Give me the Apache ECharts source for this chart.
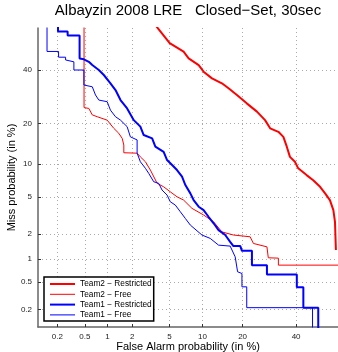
<!DOCTYPE html>
<html>
<head>
<meta charset="utf-8">
<script src="https://cdn.jsdelivr.net/npm/echarts@6/dist/echarts.min.js"></script>
<style>
  html, body { margin: 0; padding: 0; background: #fff; }
  #det { width: 338px; height: 352px; }
</style>
</head>
<body>
<div id="det"></div>
<script>
// DET curve values, in percent
var tickPct = [0.2, 0.5, 1, 2, 5, 10, 20, 40];
var faRange = [0.1, 58.2];
var missRange = [0.107, 58.2];

var team2RestrictedFA = [3.5, 5.02, 6.81, 7.57, 9.27, 10.2, 11.94, 14.25, 15.96, 18.3, 21.3, 24.7, 27.6, 29.5, 32.7, 34.7, 36.1, 37.4, 39.5, 40.9, 44.5, 47.4, 50.4, 52.6, 54.7, 56.2, 56.9, 57.3];
var team2RestrictedMiss = [60, 51.6, 47.9, 45.0, 42.1, 39.3, 36.5, 34.5, 32.5, 29.9, 26.8, 23.9, 21.1, 18.6, 17.6, 16.2, 13.7, 11.4, 10.4, 9.16, 8.0, 7.2, 6.26, 5.42, 4.66, 3.68, 2.76, 1.30];

var team2FreeFA = [0.488, 0.488, 0.568, 0.632, 0.736, 0.99, 1.20, 1.38, 1.52, 1.59, 1.59, 2.27, 2.47, 2.81, 3.18, 3.75, 4.37, 5.09, 5.91, 6.81, 8.1, 10.2, 12.3, 14.25, 17.3, 22.4, 23.5, 28.3, 28.8, 32.7, 32.7, 65];
var team2FreeMiss = [60, 25.3, 25.0, 22.8, 22.2, 21.1, 18.6, 17.2, 15.8, 14.1, 12.3, 12.2, 11.4, 10.4, 8.85, 6.74, 6.26, 5.61, 5.02, 4.66, 3.84, 3.27, 2.76, 2.13, 1.96, 1.87, 1.56, 1.42, 1.04, 1.03, 0.838, 0.838];

var team1RestrictedFA = [0.205, 0.205, 0.285, 0.285, 0.423, 0.423, 0.486, 0.568, 0.632, 0.772, 0.897, 1.09, 1.26, 1.45, 1.74, 2.08, 2.47, 2.69, 3.32, 3.59, 4.37, 4.73, 5.3, 5.91, 6.59, 7.07, 7.84, 8.38, 9.27, 10.2, 11.2, 12.3, 13.44, 15.1, 16.4, 17.3, 19.3, 19.8, 23.0, 23.0, 28.3, 28.3, 40.3, 40.3, 43.1, 43.1, 49.6, 49.6];
var team1RestrictedMiss = [60, 56.7, 56.7, 55.0, 55.0, 44.9, 44.6, 43.5, 42.1, 40.0, 37.9, 34.5, 31.8, 28.0, 25.0, 21.1, 19.1, 16.7, 15.8, 13.7, 12.5, 10.75, 9.77, 8.85, 7.74, 6.5, 5.42, 4.66, 3.99, 3.68, 3.13, 2.66, 2.23, 1.96, 1.63, 1.45, 1.45, 1.27, 1.27, 0.838, 0.838, 0.632, 0.632, 0.42, 0.42, 0.213, 0.213, 0.05];

var team1FreeFA = [0.139, 0.139, 0.209, 0.209, 0.266, 0.266, 0.351, 0.351, 0.486, 0.486, 0.632, 0.698, 0.772, 0.99, 1.09, 1.26, 1.45, 1.74, 1.90, 2.27, 2.27, 2.47, 2.81, 3.05, 3.45, 3.89, 4.21, 4.73, 5.09, 5.69, 6.35, 7.07, 7.84, 9.88, 11.56, 13.44, 16.4, 17.8, 18.5, 19.8, 19.8, 21.3, 21.3, 47.1, 47.1];
var team1FreeMiss = [60, 48.0, 48.0, 45.5, 45.5, 44.3, 43.5, 40.0, 40.0, 33.8, 33.1, 29.9, 28.0, 27.4, 24.4, 22.2, 21.1, 19.1, 16.2, 15.4, 12.2, 10.4, 9.16, 8.29, 6.97, 6.74, 5.83, 5.22, 4.48, 4.15, 3.54, 3.0, 2.54, 1.96, 1.79, 1.49, 1.45, 1.07, 0.685, 0.65, 0.427, 0.427, 0.213, 0.213, 0.05];

// inverse normal cdf (Acklam), DET axes are in normal deviates
function probit(p) {
  var a = [-3.969683028665376e+01, 2.209460984245205e+02, -2.759285104469687e+02, 1.383577518672690e+02, -3.066479806614716e+01, 2.506628277459239e+00];
  var b = [-5.447609879822406e+01, 1.615858368580409e+02, -1.556989798598866e+02, 6.680131188771972e+01, -1.328068155288572e+01];
  var c = [-7.784894002430293e-03, -3.223964580411365e-01, -2.400758277161838e+00, -2.549732539343734e+00, 4.374664141464968e+00, 2.938163982698783e+00];
  var d = [7.784695709041462e-03, 3.224671290700398e-01, 2.445134137142996e+00, 3.754408661907416e+00];
  var q, r;
  if (p < 0.02425) {
    q = Math.sqrt(-2 * Math.log(p));
    return (((((c[0]*q+c[1])*q+c[2])*q+c[3])*q+c[4])*q+c[5]) / ((((d[0]*q+d[1])*q+d[2])*q+d[3])*q+1);
  }
  if (p > 1 - 0.02425) {
    q = Math.sqrt(-2 * Math.log(1 - p));
    return -(((((c[0]*q+c[1])*q+c[2])*q+c[3])*q+c[4])*q+c[5]) / ((((d[0]*q+d[1])*q+d[2])*q+d[3])*q+1);
  }
  q = p - 0.5; r = q * q;
  return (((((a[0]*r+a[1])*r+a[2])*r+a[3])*r+a[4])*r+a[5])*q / (((((b[0]*r+b[1])*r+b[2])*r+b[3])*r+b[4])*r+1);
}
function dev(pct) { return probit(pct / 100); }

var tickDev = tickPct.map(dev);
function tickLabel(v) {
  for (var i = 0; i < tickDev.length; i++) {
    if (Math.abs(tickDev[i] - v) < 1e-6) return String(tickPct[i]);
  }
  return '';
}
function pairs(fa, miss) {
  return fa.map(function (f, i) { return [dev(f), dev(miss[i])]; });
}

var font = 'Liberation Sans, Arial, Helvetica, sans-serif';

function detAxis(range, name, gap) {
  return {
    type: 'value',
    min: dev(range[0]),
    max: dev(range[1]),
    name: name,
    nameLocation: 'middle',
    nameGap: gap,
    nameMoveOverlap: false,
    nameTextStyle: { fontFamily: font, fontSize: 11, color: '#000' },
    axisLine: { show: true, onZero: false, lineStyle: { color: '#666', width: 1.5 } },
    axisTick: { show: true, inside: true, length: 3, customValues: tickDev, lineStyle: { color: '#333' } },
    axisLabel: { customValues: tickDev, formatter: tickLabel, fontFamily: font, fontSize: 8, color: '#222', margin: 6 },
    splitLine: { show: true, lineStyle: { color: '#aaa', width: 1, type: [1, 3] } }
  };
}

var chartDom = document.getElementById('det');
var myChart = echarts.init(chartDom, null, { renderer: 'canvas' });
var option;

function curve(name, fa, miss, color, width) {
  return {
    name: name,
    type: 'line',
    symbol: 'none',
    clip: true,
    data: pairs(fa, miss),
    lineStyle: { color: color, width: width },
    itemStyle: { color: color }
  };
}

option = {
  animation: false,
  title: {
    text: 'Albayzin 2008 LRE   Closed\u2212Set, 30sec',
    left: 188,
    top: 3,
    textAlign: 'center',
    padding: 0,
    textStyle: { fontFamily: font, fontSize: 15, fontWeight: 'normal', color: '#000' }
  },
  grid: { left: 38, right: 0, top: 28, bottom: 25, containLabel: false, outerBoundsMode: 'none' },
  xAxis: detAxis(faRange, 'False Alarm probability (in %)', 14),
  yAxis: detAxis(missRange, 'Miss probability (in %)', 21),
  legend: {
    orient: 'vertical',
    left: 44,
    top: 277,
    padding: [2, 2, 1, 5],
    itemWidth: 25,
    itemHeight: 10,
    itemGap: 0.3,
    itemStyle: { opacity: 0 },
    backgroundColor: '#fff',
    borderColor: '#000',
    borderWidth: 1.5,
    borderRadius: 0,
    textStyle: { fontFamily: font, fontSize: 8.3, color: '#000', lineHeight: 10 },
    data: [
      { name: 'Team2 \u2212 Restricted', lineStyle: { width: 2 } },
      { name: 'Team2 \u2212 Free', lineStyle: { width: 1 } },
      { name: 'Team1 \u2212 Restricted', lineStyle: { width: 2 } },
      { name: 'Team1 \u2212 Free', lineStyle: { width: 1 } }
    ]
  },
  series: [
    curve('Team2 \u2212 Restricted', team2RestrictedFA, team2RestrictedMiss, '#ff0000', 2),
    curve('Team2 \u2212 Free', team2FreeFA, team2FreeMiss, '#ff0000', 1),
    curve('Team1 \u2212 Restricted', team1RestrictedFA, team1RestrictedMiss, '#0000ff', 2),
    curve('Team1 \u2212 Free', team1FreeFA, team1FreeMiss, '#0000ff', 1)
  ]
};

option && myChart.setOption(option);
</script>
</body>
</html>
